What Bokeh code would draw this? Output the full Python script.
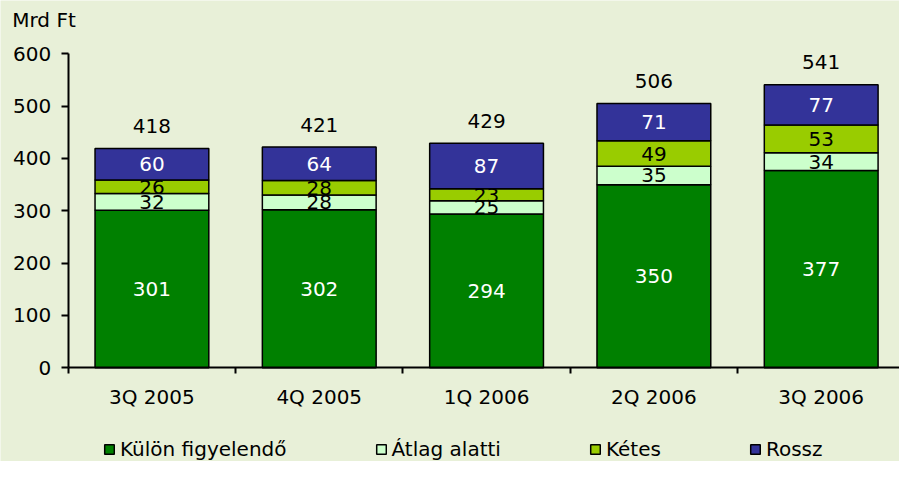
from bokeh.plotting import figure
from bokeh.models import ColumnDataSource, Range1d, FixedTicker, Legend, LegendItem, Label
from bokeh.embed import file_html
from bokeh.resources import INLINE
from bokeh.core.properties import value

quarters = ["3Q 2005", "4Q 2005", "1Q 2006", "2Q 2006", "3Q 2006"]
kulon = [301, 302, 294, 350, 377]
atlag = [32, 28, 25, 35, 34]
ketes = [26, 28, 23, 49, 53]
rossz = [60, 64, 87, 71, 77]
totals = [418, 421, 429, 506, 541]
series_names = ["Külön figyelendő", "Átlag alatti", "Kétes", "Rossz"]
y_ticks = [0, 100, 200, 300, 400, 500, 600]
unit_label = "Mrd Ft"

colors = ["#008000", "#CCFFCC", "#99CC00", "#333399"]
label_colors = ["white", "black", "black", "white"]
BG = "#E8F0D8"
FONT = "DejaVu Sans"
FS = "20px"

xs = [i + 0.5 for i in range(len(quarters))]
keys = ["kulon", "atlag", "ketes", "rossz"]
series = [kulon, atlag, ketes, rossz]
src = ColumnDataSource(dict(x=xs, kulon=kulon, atlag=atlag, ketes=ketes, rossz=rossz))

y_max = y_ticks[-1]
n = len(quarters)
p = figure(width=899, height=461, output_backend="svg", toolbar_location=None,
           x_range=Range1d(-0.405, 4.968), y_range=Range1d(-179.1, 701.9),
           min_border_left=0, min_border_right=0, min_border_top=0, min_border_bottom=0)
p.background_fill_color = BG
p.border_fill_color = BG
p.outline_line_color = None
p.grid.visible = False

rends = p.vbar_stack(keys, x="x", width=0.68, color=colors, line_color="black",
                     line_width=1.5, source=src)

# segment labels
for si, (vals, col) in enumerate(zip(series, label_colors)):
    base = [sum(s[i] for s in series[:si]) for i in range(len(xs))]
    mids = [b + v / 2 for b, v in zip(base, vals)]
    ls = ColumnDataSource(dict(x=xs, y=mids, t=[str(v) for v in vals]))
    p.text(x="x", y="y", text="t", source=ls, text_align="center", text_baseline="middle",
           text_color=col, text_font=value(FONT), text_font_size=FS)

# totals
stack_top = [sum(s[i] for s in series) for i in range(len(xs))]
ts = ColumnDataSource(dict(x=xs, y=[t + 42.5 for t in stack_top], t=[str(v) for v in totals]))
p.text(x="x", y="y", text="t", source=ts, text_align="center", text_baseline="middle",
       text_color="black", text_font=value(FONT), text_font_size=FS)

# axes
xa = p.xaxis[0]
xa.fixed_location = 0
xa.bounds = (0, n)
xa.ticker = FixedTicker(ticks=xs, minor_ticks=list(range(n + 1)))
xa.major_label_overrides = {x: q for x, q in zip(xs, quarters)}
xa.major_tick_out = 0
xa.major_tick_in = 0
xa.minor_tick_out = 6
xa.minor_tick_in = 0
xa.minor_tick_line_color = "black"
xa.minor_tick_line_width = 2
xa.axis_line_width = 2
xa.major_label_standoff = 11
xa.major_label_text_font = FONT
xa.major_label_text_font_size = FS
xa.major_label_text_color = "black"

ya = p.yaxis[0]
ya.fixed_location = 0
ya.bounds = (0, y_max)
ya.ticker = FixedTicker(ticks=y_ticks)
ya.minor_tick_line_color = None
ya.major_tick_out = 7
ya.major_tick_in = 0
ya.major_tick_line_width = 2
ya.axis_line_width = 2
ya.major_label_standoff = 10
ya.major_label_text_font = FONT
ya.major_label_text_font_size = FS
ya.major_label_text_color = "black"

p.add_layout(Label(x=-0.335, y=665, text=unit_label, text_align="left", text_baseline="middle",
                   text_font=FONT, text_font_size=FS, text_color="black"))

legend = Legend(items=[LegendItem(label=s, renderers=[r]) for s, r in zip(series_names, rends)],
                orientation="horizontal", glyph_width=12, glyph_height=12, label_standoff=5,
                spacing=88, padding=2, margin=0, background_fill_alpha=0, border_line_color=None,
                label_text_font=FONT, label_text_font_size=FS, label_text_color="black",
                location=(103, 0))
p.add_layout(legend, "center")

open("out.html", "w").write(file_html(p, INLINE))
